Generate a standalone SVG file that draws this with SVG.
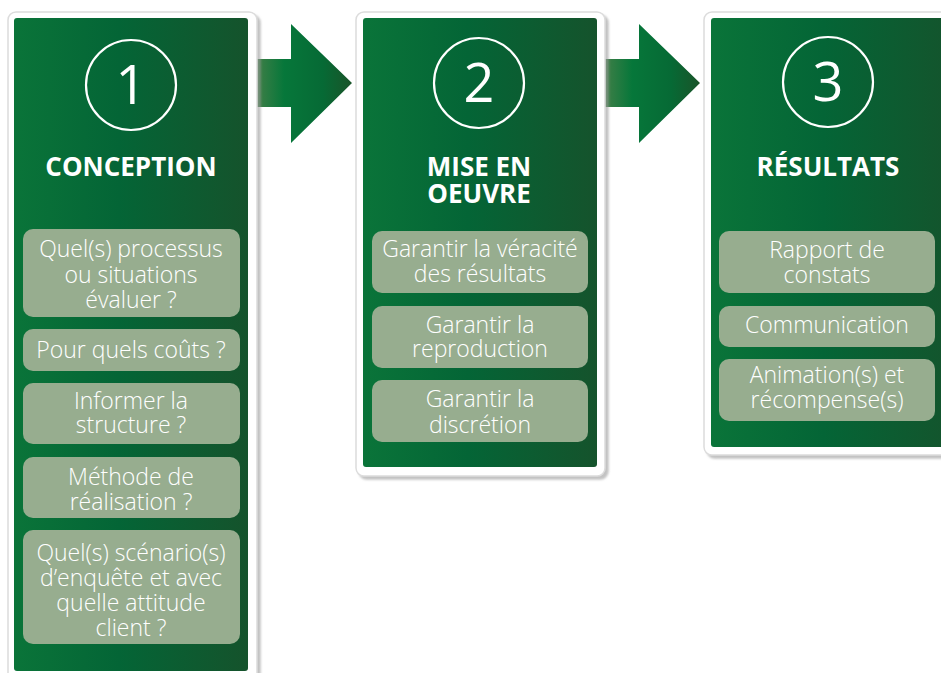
<svg xmlns="http://www.w3.org/2000/svg" width="941" height="673" viewBox="0 0 941 673">
  <defs>
    <linearGradient id="panelGreen" x1="0" y1="0" x2="1" y2="0">
      <stop offset="0" stop-color="#0a7439"/>
      <stop offset="0.45" stop-color="#046536"/>
      <stop offset="1" stop-color="#15532c"/>
    </linearGradient>
    <linearGradient id="arrowGreen" x1="0" y1="0" x2="1" y2="0">
      <stop offset="0" stop-color="#447f48"/>
      <stop offset="0.3" stop-color="#06773a"/>
      <stop offset="0.7" stop-color="#066a35"/>
      <stop offset="1" stop-color="#1a5429"/>
    </linearGradient>
    <filter id="frameShadow" x="-5%" y="-5%" width="115%" height="115%">
      <feDropShadow dx="3" dy="3" stdDeviation="1.2" flood-color="#9a9a9a" flood-opacity="0.6"/>
    </filter>
  </defs>
  <style>
    .frame { fill: #ffffff; stroke: #dcdcdc; stroke-width: 1.5; filter: url(#frameShadow); }
    .panel { fill: url(#panelGreen); }
    .ring { fill: none; stroke: #ffffff; stroke-width: 2.2; }
    .num { font-family: "Open Sans", "Noto Sans", sans-serif; font-weight: 400; font-size: 54px; fill: #ffffff; text-anchor: middle; }
    .title { font-family: "Open Sans", "Noto Sans", sans-serif; font-weight: 700; font-size: 26px; fill: #ffffff; text-anchor: middle; }
    .item { fill: #97ad8f; }
    .label { font-family: "Open Sans", "Noto Sans", sans-serif; font-weight: 300; font-size: 23px; fill: #ffffff; text-anchor: middle; }
    .arrow { fill: url(#arrowGreen); }
  </style>

  <!-- flow arrows between the stages -->
  <g id="connectors">
    <polygon class="arrow" points="255,59 291,59 291,24 352,83 291,143 291,107 255,107"/>
    <polygon class="arrow" points="603,59 639,59 639,24 700,83 639,143 639,107 603,107"/>
  </g>

  <!-- stage 1 -->
  <g id="stage-conception">
    <rect class="frame" x="8" y="12" width="249" height="672" rx="8"/>
    <rect class="panel" x="14" y="18" width="234" height="653" rx="3"/>
    <circle class="ring" cx="131" cy="85" r="45"/>
    <text class="num" x="131" y="104">1</text>
    <text class="title" x="131" y="176">CONCEPTION</text>
    <rect class="item" x="23" y="229" width="217" height="88" rx="10"/>
    <text class="label" x="131" y="257">Quel(s) processus</text>
    <text class="label" x="131" y="283">ou situations</text>
    <text class="label" x="131" y="308">évaluer ?</text>
    <rect class="item" x="23" y="329" width="217" height="42" rx="10"/>
    <text class="label" x="131" y="358">Pour quels coûts ?</text>
    <rect class="item" x="23" y="383" width="217" height="61" rx="10"/>
    <text class="label" x="131" y="409">Informer la</text>
    <text class="label" x="131" y="433">structure ?</text>
    <rect class="item" x="23" y="457" width="217" height="61" rx="10"/>
    <text class="label" x="131" y="485">Méthode de</text>
    <text class="label" x="131" y="510">réalisation ?</text>
    <rect class="item" x="23" y="530" width="217" height="114" rx="10"/>
    <text class="label" x="131" y="561">Quel(s) scénario(s)</text>
    <text class="label" x="131" y="586">d’enquête et avec</text>
    <text class="label" x="131" y="611">quelle attitude</text>
    <text class="label" x="131" y="636">client ?</text>
  </g>

  <!-- stage 2 -->
  <g id="stage-mise-en-oeuvre">
    <rect class="frame" x="356" y="12" width="249" height="464" rx="8"/>
    <rect class="panel" x="363" y="18" width="234" height="449" rx="3"/>
    <circle class="ring" cx="479" cy="83" r="45"/>
    <text class="num" x="479" y="102">2</text>
    <text class="title" x="479" y="176">MISE EN</text>
    <text class="title" x="479" y="203">OEUVRE</text>
    <rect class="item" x="372" y="231" width="216" height="62" rx="10"/>
    <text class="label" x="480" y="257">Garantir la véracité</text>
    <text class="label" x="480" y="282">des résultats</text>
    <rect class="item" x="372" y="306" width="216" height="62" rx="10"/>
    <text class="label" x="480" y="333">Garantir la</text>
    <text class="label" x="480" y="357">reproduction</text>
    <rect class="item" x="372" y="380" width="216" height="62" rx="10"/>
    <text class="label" x="480" y="407">Garantir la</text>
    <text class="label" x="480" y="433">discrétion</text>
  </g>

  <!-- stage 3 -->
  <g id="stage-resultats">
    <rect class="frame" x="704" y="12" width="260" height="443" rx="8"/>
    <rect class="panel" x="711" y="18" width="250" height="429" rx="3"/>
    <circle class="ring" cx="828" cy="82" r="45"/>
    <text class="num" x="828" y="101">3</text>
    <text class="title" x="828" y="176">RÉSULTATS</text>
    <rect class="item" x="719" y="231" width="216" height="62" rx="10"/>
    <text class="label" x="827" y="258">Rapport de</text>
    <text class="label" x="827" y="283">constats</text>
    <rect class="item" x="719" y="306" width="216" height="41" rx="10"/>
    <text class="label" x="827" y="333">Communication</text>
    <rect class="item" x="719" y="359" width="216" height="62" rx="10"/>
    <text class="label" x="827" y="383">Animation(s) et</text>
    <text class="label" x="827" y="408">récompense(s)</text>
  </g>
</svg>
